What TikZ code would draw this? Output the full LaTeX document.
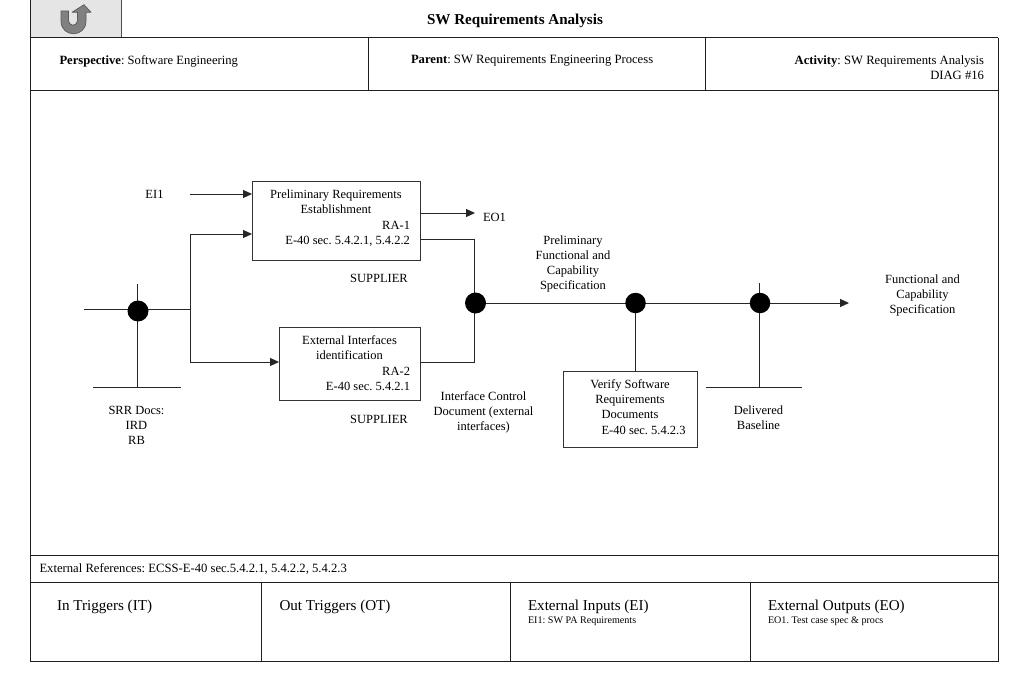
\documentclass[tikz,border=0pt]{standalone}
\usepackage{fontspec}
\setmainfont{Liberation Serif}
\usetikzlibrary{arrows.meta}
\pgfdeclarelayer{wires}
\pgfsetlayers{wires,main}
\newcommand{\fsz}[1]{\fontsize{#1}{15.3}\selectfont\frenchspacing}
\newcommand{\cln}[1]{\makebox[\linewidth][c]{#1}}
\newcommand{\boxtext}[3]{\parbox[c][#2][t]{#1}{#3}}
\tikzset{
  x=1pt,y=-1pt,
  every node/.style={inner sep=0pt,outer sep=0pt},
  frameline/.style={draw=black!88,line width=1pt},
  wire/.style={draw=black!85,line width=1pt},
  arrowwire/.style={wire,-{Triangle[length=9pt,width=8pt]}},
  procbox/.style={draw=black!80,line width=1pt,font=\fsz{12.5},inner xsep=10pt},
  jdot/.style={circle,fill=black,draw=none,minimum size=#1},
  lbl/.style={align=center,font=\fsz{12.5}},
  smalltxt/.style={anchor=west,font=\fsz{10.1}},
  headtxt/.style={anchor=west,font=\fsz{15.1}}
}
\begin{document}
\begin{tikzpicture}
\useasboundingbox (0,0) rectangle (1023,682);
% frame
\path[fill=black!10,draw=black!70,line width=1pt] (30,-1) rectangle (121,38);
\draw[frameline] (30,0) -- (30,661) -- (998,661) -- (998,38);
\draw[frameline] (30,38) -- (998,38);
\draw[frameline] (30,91) -- (998,91);
\draw[frameline] (30,555.5) -- (998,555.5);
\draw[frameline] (30,582) -- (998,582);
\draw[frameline] (368,38) -- (368,91);
\draw[frameline] (705,38) -- (705,91);
\draw[frameline] (261.5,582) -- (261.5,661);
\draw[frameline] (510,582) -- (510,661);
\draw[frameline] (750,582) -- (750,661);
% back icon
\draw[fill=black!50,draw=black!65,line width=0.7pt,line join=round]
  (61,11) -- (68.5,11) -- (68.5,19) .. controls (68.5,27.5) and (77.5,27.5) .. (77.5,19)
  -- (77.5,12.3) -- (72,12.3) -- (84,4.7) -- (91,12.3) -- (86,12.3) -- (86,21)
  .. controls (86,38) and (61,38) .. (61,21) -- cycle;
% header text
\node[font=\fsz{15.1}\bfseries] (title) at (515,20.5) {SW Requirements Analysis};
\node[anchor=west,font=\fsz{12.6}] (persp) at (59.5,61.5) {\textbf{Perspective}: Software Engineering};
\node[anchor=west,font=\fsz{12.65}] (parent) at (411,60.5) {\textbf{Parent}: SW Requirements Engineering Process};
\node[anchor=east,align=right,font=\fsz{12.65}] (activity) at (984,67.5) {\textbf{Activity}: SW Requirements Analysis\\DIAG \#16};
% process boxes
\node[procbox,inner ysep=8.5pt] (ra1) at (336,221)
  {\boxtext{148pt}{62pt}{\cln{Preliminary Requirements}\\\cln{Establishment}\\\hspace*{\fill}RA-1\\\hspace*{\fill}E-40 sec. 5.4.2.1, 5.4.2.2}};
\node[procbox,inner ysep=8.2pt] (ra2) at (349.5,364)
  {\boxtext{121pt}{56.6pt}{\cln{External Interfaces}\\\cln{identification}\\\hspace*{\fill}RA-2\\\hspace*{\fill}E-40 sec. 5.4.2.1}};
\node[procbox,inner ysep=8.5pt] (verify) at (630,409)
  {\boxtext{114pt}{59pt}{\cln{Verify Software}\\\cln{Requirements}\\\cln{Documents}\\\hspace*{28.6pt}E-40 sec. 5.4.2.3}};
% junction dots
\node[jdot=21pt] (j1) at (138,311) {};
\node[jdot=21pt] (j2) at (475.5,303) {};
\node[jdot=20.5pt] (j3) at (635.5,303) {};
\node[jdot=20.5pt] (j4) at (760,303) {};
% labels
\node[lbl] (ei1) at (154.5,194.5) {EI1};
\node[lbl,anchor=west] (eo1) at (483,217.5) {EO1};
\node[lbl] (sup1) at (379,278.5) {SUPPLIER};
\node[lbl] (sup2) at (379,419.5) {SUPPLIER};
\node[lbl] (srr) at (136.5,425.5) {SRR Docs:\\IRD\\RB};
\node[lbl] (icd) at (483.5,412.5) {Interface Control\\Document (external\\interfaces)};
\node[lbl] (pfc) at (573,264) {Preliminary\\Functional and\\Capability\\Specification};
\node[lbl] (fcs) at (922.5,295.5) {Functional and\\Capability\\Specification};
\node[lbl] (base) at (758.5,418) {Delivered\\Baseline};
% footer text
\node[anchor=west,font=\fsz{12.65}] (ext) at (39.5,569.5) {External References: ECSS-E-40 sec.5.4.2.1, 5.4.2.2, 5.4.2.3};
\node[headtxt] (it) at (57,607) {In Triggers (IT)};
\node[headtxt] (ot) at (279.5,607) {Out Triggers (OT)};
\node[headtxt] (ei) at (528,607) {External Inputs (EI)};
\node[headtxt] (eo) at (768,607) {External Outputs (EO)};
\node[smalltxt] (eit) at (528,621) {EI1: SW PA Requirements};
\node[smalltxt] (eot) at (768,621) {EO1. Test case spec \& procs};
% free ends
\coordinate (c1) at (190,194);
\coordinate (inL) at (84,309.5);
\coordinate (split) at (190,309.5);
\coordinate (t1) at (190,234);
\coordinate (t2) at (190,362);
\coordinate (o1) at (475,213);
\coordinate (o2) at (474.5,239.5);
\coordinate (o3) at (474.5,362);
\coordinate (j1top) at (137,284);
\coordinate (b1) at (137,387.5);
\coordinate (b1l) at (93,387.5);
\coordinate (b1r) at (181,387.5);
\coordinate (out) at (849,303);
\coordinate (j4top) at (759,283);
\coordinate (b2) at (759,387.5);
\coordinate (b2l) at (706,387.5);
\coordinate (b2r) at (802,387.5);
% connectors
\begin{pgfonlayer}{wires}
\draw[arrowwire] (c1) -- (c1 -| ra1.west);
\draw[wire] (inL) -- (split);
\draw[arrowwire] (split) -- (t1) -- (t1 -| ra1.west);
\draw[arrowwire] (split) -- (t2) -- (t2 -| ra2.west);
\draw[wire] (j1top) -- (b1);
\draw[wire] (b1l) -- (b1r);
\draw[arrowwire] (o1 -| ra1.east) -- (o1);
\draw[wire] (o2 -| ra1.east) -- (o2) -- (o2 |- j2);
\draw[wire] (o3 -| ra2.east) -- (o3) -- (o3 |- j2);
\draw[arrowwire] (j2) -- (out);
\draw[wire] (j3) -- (j3 |- verify.north);
\draw[wire] (j4top) -- (b2);
\draw[wire] (b2l) -- (b2r);
\end{pgfonlayer}
\end{tikzpicture}
\end{document}
